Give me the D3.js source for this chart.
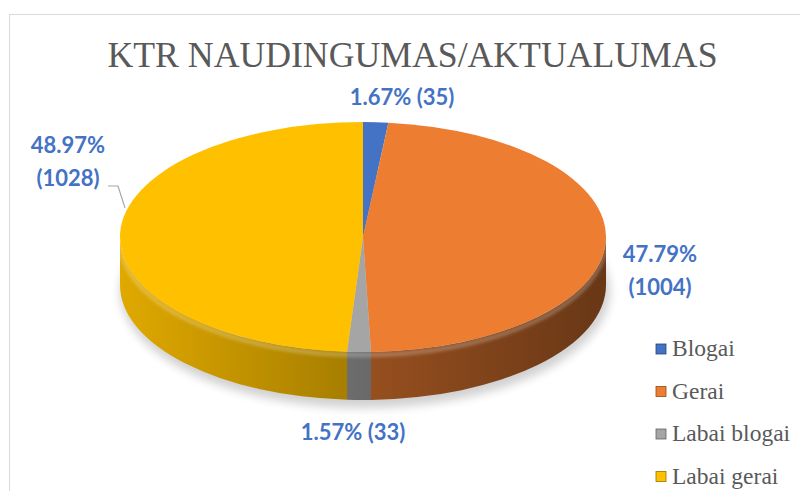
<!DOCTYPE html>
<html><head><meta charset="utf-8">
<script src="https://cdn.jsdelivr.net/npm/d3@7"></script>
<style>body{margin:0;background:#fff;overflow:hidden}</style>
</head><body><svg id="c" width="800" height="491"></svg>
<script>
// ---- data ----
const categories = ["Blogai", "Gerai", "Labai blogai", "Labai gerai"];
const values = [35, 1004, 33, 1028];
const percentLabels = ["1.67%", "47.79%", "1.57%", "48.97%"];
const colors = ["#4472C4", "#ED7D31", "#A5A5A5", "#FFC000"];
const chartTitle = "KTR NAUDINGUMAS/AKTUALUMAS";

// ---- layout ----
const W = 800, H = 491;
const cx = 363, cy = 237, rx = 243, ry = 115, depth = 48;
const svg = d3.select("#c");
const defs = svg.append("defs");

svg.append("rect").attr("x", 9.5).attr("y", 14.5).attr("width", W).attr("height", H)
  .attr("fill", "#fff").attr("stroke", "#d9d9d9").attr("stroke-width", 1);

const color = d3.scaleOrdinal().domain(categories).range(colors);
const pie = d3.pie().sort(null).value(d => d.v);
const data = categories.map((c, i) => ({ c, v: values[i], p: percentLabels[i] }));
const arcs = pie(data);

const pt = (a, dy = 0) => [cx + rx * Math.sin(a), cy - ry * Math.cos(a) + dy];

function topPath(d) {
  const [x0, y0] = pt(d.startAngle), [x1, y1] = pt(d.endAngle);
  const large = (d.endAngle - d.startAngle) > Math.PI ? 1 : 0;
  return `M${cx},${cy}L${x0},${y0}A${rx},${ry} 0 ${large} 1 ${x1},${y1}Z`;
}
function sidePath(d) {
  const a0 = Math.max(d.startAngle, Math.PI / 2), a1 = Math.min(d.endAngle, 3 * Math.PI / 2);
  if (a1 <= a0) return null;
  const [x0, y0] = pt(a0), [x1, y1] = pt(a1);
  return `M${x0},${y0}A${rx},${ry} 0 0 1 ${x1},${y1}L${x1},${y1 + depth}A${rx},${ry} 0 0 0 ${x0},${y0 + depth}Z`;
}

// shadow
const f = defs.append("filter").attr("id", "blur").attr("x", "-20%").attr("y", "-20%").attr("width", "140%").attr("height", "140%");
f.append("feGaussianBlur").attr("stdDeviation", 5);
const f2 = defs.append("filter").attr("id", "blur2");
f2.append("feGaussianBlur").attr("stdDeviation", 1.5);
svg.append("ellipse").attr("cx", cx + 2).attr("cy", cy + depth + 6).attr("rx", rx + 2).attr("ry", ry + 2)
  .attr("fill", "#000").attr("opacity", 0.18).attr("filter", "url(#blur)");

// side gradients
function scaleColor(c, k) { const r = d3.rgb(c); return d3.rgb(r.r * k, r.g * k, r.b * k).formatHex(); }
arcs.forEach((d, i) => {
  const g = defs.append("linearGradient").attr("id", "side" + i).attr("gradientUnits", "userSpaceOnUse")
    .attr("x1", cx - rx).attr("x2", cx + rx).attr("y1", 0).attr("y2", 0);
  g.append("stop").attr("offset", 0).attr("stop-color", scaleColor(color(d.data.c), 0.88));
  g.append("stop").attr("offset", 0.5).attr("stop-color", scaleColor(color(d.data.c), 0.64));
  g.append("stop").attr("offset", 1).attr("stop-color", scaleColor(color(d.data.c), 0.44));
});

const sides = svg.append("g");
arcs.forEach((d, i) => {
  const p = sidePath(d);
  if (p) sides.append("path").attr("d", p).attr("fill", `url(#side${i})`);
});
// rim highlight
const [hx0, hy0] = pt(Math.PI / 2), [hx1, hy1] = pt(3 * Math.PI / 2);
const clip = defs.append("clipPath").attr("id", "sideclip");
clip.append("path").attr("d", `M${hx0},${hy0}A${rx},${ry} 0 0 1 ${hx1},${hy1}L${hx1},${hy1 + depth}A${rx},${ry} 0 0 0 ${hx0},${hy0 + depth}Z`);
svg.append("path").attr("clip-path", "url(#sideclip)")
  .attr("d", `M${hx0},${hy0 + 3}A${rx},${ry} 0 0 1 ${hx1},${hy1 + 3}`)
  .attr("fill", "none").attr("stroke", "#fff").attr("stroke-opacity", 0.22).attr("stroke-width", 5).attr("filter", "url(#blur2)");

// tops
svg.append("g").selectAll("path").data(arcs).join("path")
  .attr("d", topPath).attr("fill", d => color(d.data.c));

// title
svg.append("text").attr("x", 412.5).attr("y", 67).attr("text-anchor", "middle")
  .attr("font-family", "Liberation Serif, serif").attr("font-size", 36).attr("fill", "#595959")
  .attr("textLength", 610).attr("lengthAdjust", "spacingAndGlyphs").text(chartTitle);

// data labels
const labelFont = "Lato, 'Open Sans', sans-serif";
const labelLayout = [
  { lines: d => [`${d.p} (${d.v})`], x: 402, y: 105 },
  { lines: d => [d.p, `(${d.v})`], x: 660, y: 262 },
  { lines: d => [`${d.p} (${d.v})`], x: 353, y: 440 },
  { lines: d => [d.p, `(${d.v})`], x: 68, y: 153, leader: true }
];
arcs.forEach((d, i) => {
  const L = labelLayout[i];
  const t = svg.append("text").attr("text-anchor", "middle").attr("font-family", labelFont)
    .attr("font-weight", 700).attr("font-size", 22).attr("fill", "#4472C4");
  L.lines(d.data).forEach((s, j) => t.append("tspan").attr("x", L.x).attr("y", L.y + j * 33).text(s));
  if (L.leader) {
    const [ex, ey] = pt((d.startAngle + d.endAngle) / 2 + 0.17);
    svg.append("path").attr("d", `M${L.x + 40},${L.y + 33}L${L.x + 50},${L.y + 33}L${ex},${ey - 6}`)
      .attr("fill", "none").attr("stroke", "#a6a6a6").attr("stroke-width", 1.2);
  }
});

// legend
const leg = svg.append("g").attr("transform", "translate(656,356)");
categories.forEach((c, i) => {
  const g = leg.append("g").attr("transform", `translate(0,${i * 42.5})`);
  g.append("rect").attr("x", 0).attr("y", -12).attr("width", 10).attr("height", 10)
    .attr("fill", color(c)).attr("stroke", scaleColor(color(c), 0.6)).attr("stroke-width", 0.8);
  g.append("text").attr("x", 16).attr("y", 0).attr("font-family", "Liberation Serif, serif")
    .attr("font-size", 23.5).attr("fill", "#595959").text(c);
});
</script></body></html>
